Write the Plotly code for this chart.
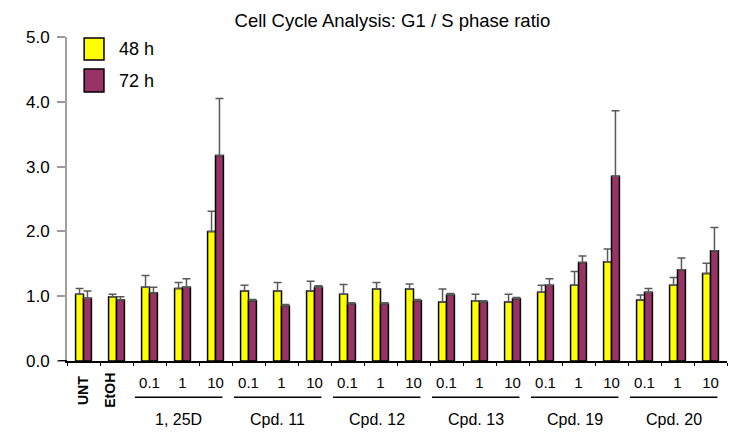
"""Cell cycle analysis: G1 / S phase ratio, grouped bars with upper error bars."""

import plotly.graph_objects as go

tick_labels = ["UNT", "EtOH",
               "0.1", "1", "10", "0.1", "1", "10", "0.1", "1", "10",
               "0.1", "1", "10", "0.1", "1", "10", "0.1", "1", "10"]
group_names = ["1, 25D", "Cpd. 11", "Cpd. 12", "Cpd. 13", "Cpd. 19", "Cpd. 20"]

ratio_48h = [1.03, 0.99, 1.14, 1.12, 2.00, 1.08, 1.08, 1.08, 1.03, 1.11,
             1.11, 0.91, 0.93, 0.91, 1.06, 1.17, 1.53, 0.94, 1.17, 1.35]
err_48h = [0.09, 0.04, 0.18, 0.09, 0.31, 0.09, 0.13, 0.15, 0.15, 0.10,
           0.08, 0.20, 0.10, 0.12, 0.11, 0.21, 0.20, 0.08, 0.12, 0.16]
ratio_72h = [0.97, 0.94, 1.05, 1.14, 3.17, 0.93, 0.85, 1.14, 0.88, 0.88,
             0.93, 1.02, 0.91, 0.96, 1.17, 1.52, 2.85, 1.06, 1.41, 1.70]
err_72h = [0.11, 0.05, 0.09, 0.13, 0.88, 0.02, 0.02, 0.02, 0.02, 0.02,
           0.02, 0.02, 0.02, 0.02, 0.10, 0.10, 1.01, 0.06, 0.18, 0.36]

FONT = "Liberation Sans, Arial, sans-serif"
x = list(range(len(tick_labels)))

fig = go.Figure()
for name, vals, errs, color in (
    ("48 h", ratio_48h, err_48h, "#FFFF00"),
    ("72 h", ratio_72h, err_72h, "#993366"),
):
    fig.add_trace(go.Bar(
        x=x, y=vals, name=name,
        marker={"color": color, "line": {"color": "black", "width": 1.5}},
        error_y={"type": "data", "symmetric": False, "array": errs,
                 "arrayminus": [0] * len(errs), "color": "#5a5a5a",
                 "thickness": 1.5, "width": 4},
        showlegend=False,
    ))

# numeric tick labels only for the dose categories
fig.update_xaxes(
    range=[-0.5, len(x) - 0.5],
    tickvals=x[2:], ticktext=tick_labels[2:], ticks="", ticklabelstandoff=7,
    tickfont={"size": 15, "color": "black", "family": FONT},
    showline=True, linecolor="black", linewidth=2,
    showgrid=False, zeroline=False,
    minor={"tickvals": [i - 0.5 for i in range(len(x) + 1)], "ticks": "outside",
           "ticklen": 3, "tickcolor": "black", "tickwidth": 1},
)
fig.update_yaxes(
    range=[0, 5], tickvals=[0, 1, 2, 3, 4, 5],
    ticktext=["0.0", "1.0", "2.0", "3.0", "4.0", "5.0"],
    ticks="outside", ticklen=8, tickcolor="#999999", tickwidth=1.5,
    ticklabelstandoff=4,
    tickfont={"size": 17, "color": "black", "family": FONT},
    showline=True, linecolor="#a0a0a0", linewidth=2,
    showgrid=False, zeroline=False,
)

# baseline pokes a little past the y axis, like the original
fig.add_shape(type="line", xref="paper", yref="y", x0=-0.013, x1=0, y0=0, y1=0,
              line={"color": "black", "width": 2})

# rotated control labels
for i, dx in ((0, -0.02), (1, -0.18)):
    fig.add_annotation(x=x[i] + dx, y=-0.09, yref="paper", text="<b>%s</b>" % tick_labels[i],
                       textangle=-90, showarrow=False, yanchor="middle",
                       font={"size": 14, "color": "black", "family": FONT})

# group underlines and names
for g, name in enumerate(group_names):
    first = 2 + 3 * g
    last = first + 2
    fig.add_shape(type="line", xref="x", yref="paper",
                  x0=x[first] - 0.44, x1=x[last] + 0.21, y0=-0.112, y1=-0.112,
                  line={"color": "black", "width": 1.5})
    fig.add_annotation(x=(x[first] - 0.44 + x[last] + 0.21) / 2, y=-0.182, yref="paper",
                       text=name, showarrow=False, yanchor="middle",
                       font={"size": 16, "color": "black", "family": FONT})

# legend drawn as swatches + text
for (name, color), (y0, y1) in zip((("48 h", "#FFFF00"), ("72 h", "#993366")),
                                   ((0.929, 0.997), (0.830, 0.901))):
    fig.add_shape(type="rect", xref="paper", yref="paper",
                  x0=0.026, x1=0.056, y0=y0, y1=y1,
                  fillcolor=color, line={"color": "black", "width": 1.5})
    fig.add_annotation(x=0.076, y=(y0 + y1) / 2, xref="paper", yref="paper",
                       text=name, showarrow=False, xanchor="left", yanchor="middle",
                       font={"size": 18, "color": "black", "family": FONT})

# page body has an 8px margin, so the figure is sized to fit inside the window
fig.update_layout(
    title={"text": "Cell Cycle Analysis: G1 / S phase ratio", "x": 0.518, "xanchor": "center",
           "y": 0.970, "yanchor": "middle", "font": {"size": 18.5, "color": "black", "family": FONT}},
    barmode="group", bargap=0.52, bargroupgap=0,
    width=742, height=427,
    margin={"l": 59, "r": 23, "t": 29, "b": 74},
    plot_bgcolor="white", paper_bgcolor="white",
    font={"family": FONT, "color": "black"},
)

fig.write_html("out.html")
